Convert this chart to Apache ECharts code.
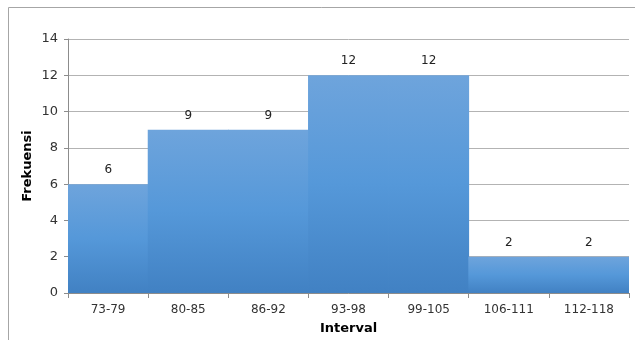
<!DOCTYPE html>
<html>
<head>
<meta charset="utf-8">
<script src="https://cdn.jsdelivr.net/npm/echarts@6/dist/echarts.min.js"></script>
<style>html,body{margin:0;padding:0;background:#fff}#c{width:635px;height:340px}</style>
</head>
<body>
<div id="c"></div>
<script>
var categories = ['73-79','80-85','86-92','93-98','99-105','106-111','112-118'];
var frequencies = [6, 9, 9, 12, 12, 2, 2];
var yTicks = [0, 2, 4, 6, 8, 10, 12, 14];

var chart = echarts.init(document.getElementById('c'), null, {renderer: 'canvas'});
var font = 'Verdana, "DejaVu Sans", sans-serif';
chart.setOption({
  animation: false,
  backgroundColor: '#fff',
  graphic: [
    {type: 'line', shape: {x1: 8.5, y1: 7.5, x2: 635, y2: 7.5}, style: {stroke: '#a6a6a6', lineWidth: 1}},
    {type: 'line', shape: {x1: 8.5, y1: 7.5, x2: 8.5, y2: 340}, style: {stroke: '#a6a6a6', lineWidth: 1}}
  ],
  grid: {left: 68, right: 6, top: 39, bottom: 47, containLabel: false, outerBoundsMode: 'none'},
  xAxis: {
    type: 'category',
    data: categories,
    name: 'Interval',
    nameLocation: 'middle',
    nameGap: 29,
    nameMoveOverlap: false,
    nameTextStyle: {fontFamily: font, fontWeight: 'bold', fontSize: 13, color: '#000'},
    axisLine: {lineStyle: {color: '#8c8c8c'}},
    axisTick: {show: true, length: 5, lineStyle: {color: '#8c8c8c'}},
    axisLabel: {fontFamily: font, fontSize: 12, color: '#333', margin: 11}
  },
  yAxis: {
    type: 'value',
    min: yTicks[0],
    max: yTicks[yTicks.length - 1],
    interval: 2,
    name: 'Frekuensi',
    nameLocation: 'middle',
    nameGap: 34,
    nameMoveOverlap: false,
    nameRotate: 90,
    nameTextStyle: {fontFamily: font, fontWeight: 'bold', fontSize: 13, color: '#000'},
    axisLine: {show: true, lineStyle: {color: '#8c8c8c'}},
    axisTick: {show: true, length: 4, lineStyle: {color: '#8c8c8c'}},
    axisLabel: {fontFamily: font, fontSize: 13, color: '#333', margin: 10},
    splitLine: {lineStyle: {color: '#b3b3b3'}}
  },
  series: [{
    type: 'bar',
    data: frequencies,
    barWidth: '101%',
    itemStyle: {
      color: new echarts.graphic.LinearGradient(0, 0, 0, 1, [
        {offset: 0, color: '#6ea4dc'},
        {offset: 0.5, color: '#5598d9'},
        {offset: 1, color: '#4181c3'}
      ])
    },
    label: {show: true, position: 'top', distance: 8, fontFamily: font, fontSize: 12, color: '#222'}
  }]
});
</script>
</body>
</html>
